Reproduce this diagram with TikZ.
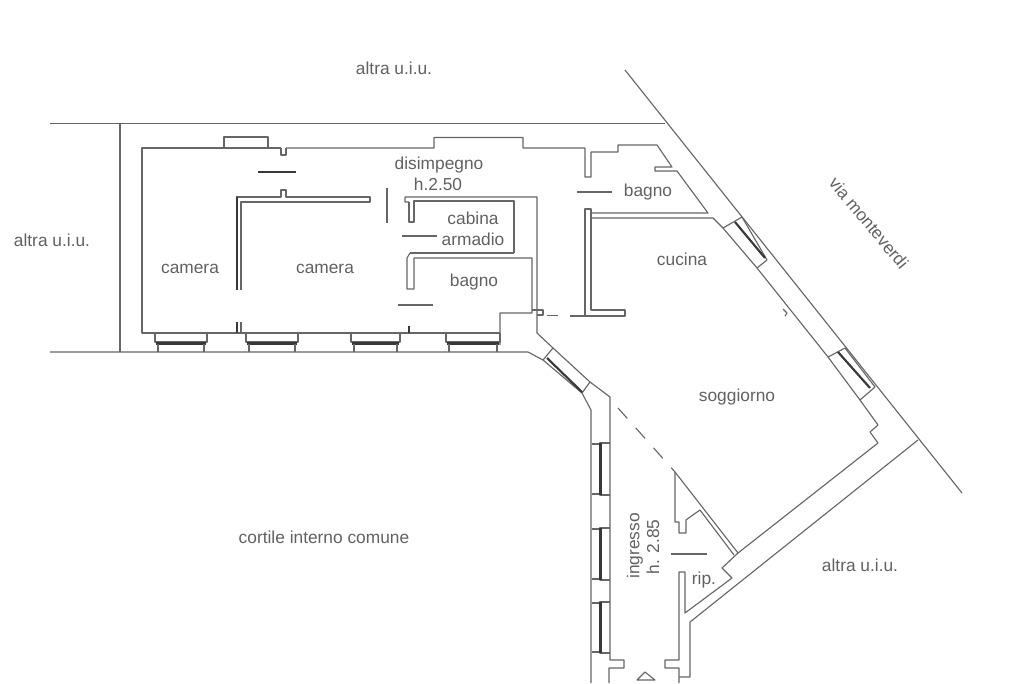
\documentclass[tikz,border=0pt]{standalone}
\usepackage{fontspec}
\setmainfont{Liberation Sans}
\tikzset{
  muro/.style={line width=0.85pt,draw=black!60,line join=round},
  spesso/.style={line width=1.6pt,draw=black!78},
  porta/.style={line width=0.85pt,draw=black!60},
  scritta/.style={text=black!62,inner sep=0pt,font=\fontsize{13}{14}\selectfont},
}
% finestra: 4 corners, then the two ends of the glass
\newcommand{\finestra}[6]{%
    \draw[muro] #1 -- #2 -- #3 -- #4 -- cycle;
    \draw[spesso] #5 -- #6;
}
% finestra on the courtyard side
\newcommand{\finestrasud}[2]{%
    \draw[muro] (#1,333) -- (#1,342) -- (#2,342) -- (#2,333);
    \draw[spesso] (#1+1,343.5) -- (#2-1,343.5);
    \draw[muro] (#1+3,344) -- (#1+3,352);
    \draw[muro] (#2-3,344) -- (#2-3,352);
}
% finestra on the entrance side
\newcommand{\finestraing}[2]{%
    \draw[muro] (610,#1) -- (600,#1) -- (600,#2) -- (610,#2);
    \draw[spesso] (600.5,#1) -- (600.5,#2);
    \draw[muro] (592,#1+1) -- (599,#1+1);
    \draw[muro] (592,#2-1) -- (599,#2-1);
}

\begin{document}
\begin{tikzpicture}[x=0.75pt,y=-0.75pt]
\useasboundingbox (0,0) rectangle (1024,683);
\clip (0,0) rectangle (1024,683);

% confini
\draw[muro] (50,123.5) -- (665,123.5);
\draw[muro] (120,123.5) -- (120,352);
\draw[muro] (50,352) -- (528,352) -- (543,360);
\draw[muro] (625,70) -- (962,493);

% perimetro camere
\draw[muro] (281,148) -- (142,148) -- (142,333) -- (500,333);
\draw[muro] (224,148) -- (224,137) -- (268,137) -- (268,148);
\draw[muro] (286,148) -- (434,148) -- (434,137.5) -- (523,137.5) -- (523,148) -- (585,148)
  -- (585,177) -- (591,177) -- (591,152) -- (618,152) -- (618,145) -- (657,145)
  -- (672,167) -- (655,167) -- (655,171) -- (677,171) -- (708,213) -- (591,213);
\draw[muro] (281,148) -- (281,155) -- (286,155) -- (286,148);
\draw[spesso] (258,172) -- (296,172);

% muro camera
\draw[muro] (241,290) -- (241,202) -- (370,202) -- (370,197) -- (286,197) -- (286,190)
  -- (281,190) -- (281,197) -- (236,197);
\draw[spesso] (237,197) -- (237,290);
\draw[spesso] (237,322) -- (237,333);
\draw[muro] (241,322) -- (241,333);
\draw[spesso] (409,326) -- (409,333);
\draw[porta] (387,188) -- (387,223);

% cabina armadio
\draw[muro] (409,202) -- (409,222) -- (414,222) -- (414,201) -- (514,201) -- (514,253);
\draw[muro] (409,202) -- (405,202) -- (405,197) -- (537,197) -- (537,333) -- (553,348);
\draw[porta] (402,236) -- (437,236);

% bagno
\draw[muro] (410,253) -- (514,253);
\draw[muro] (410,253) -- (407,258) -- (407,289) -- (414,289) -- (414,258) -- (532,258)
  -- (532,313) -- (500,313) -- (500,345);
\draw[muro] (532,310) -- (543,310) -- (543,315) -- (537,315);
\draw[porta] (398,305) -- (433,305);
\draw[porta] (577,192) -- (612,192);

% cucina
\draw[muro] (585,316) -- (585,209) -- (591,209) -- (591,310) -- (625,310) -- (625,316) -- (570,316);
\draw[muro] (591,213) -- (591,218) -- (713,218) -- (723,228);
\draw[muro,dash pattern=on 8.25pt off 9pt] (547,315.5) -- (570,315.5);

% finestre
\finestrasud{155}{207}
\finestrasud{246}{298}
\finestrasud{351}{400}
\finestrasud{446}{500}
\finestra{(543,360)}{(553,348)}{(590,382)}{(582,393)}{(547,358)}{(582,392)}
\finestra{(723,228)}{(742,217)}{(767,260)}{(757,268)}{(735,222)}{(765,258)}
\finestra{(828,357)}{(845,348)}{(875,387)}{(860,400)}{(838,352)}{(870,388)}
\finestraing{443}{495}
\finestraing{528}{580}
\finestraing{602}{653}

% soggiorno
\draw[muro] (757,268) -- (828,357);
\draw[muro] (783,309) -- (787,313) -- (785,316);
\draw[muro] (860,400) -- (878,425) -- (870,432) -- (878,443) -- (738,553) -- (722,568)
  -- (732,578) -- (685,613) -- (685,572) -- (679,572) -- (679,660) -- (665,660)
  -- (665,668) -- (679,668) -- (679,683);
\draw[muro] (918,440) -- (690,622) -- (690,677) -- (679,677);

% ingresso
\draw[muro] (582,393) -- (591,410) -- (591,683);
\draw[muro] (590,382) -- (610,397) -- (610,660) -- (624,660) -- (624,668) -- (609,668) -- (609,683);
\draw[muro,dash pattern=on 10.5pt off 9.5pt] (618,408) -- (675,472);
\draw[muro] (675,472) -- (738,553);
\draw[muro] (675,472) -- (675,522) -- (679,522) -- (679,533) -- (686,533) -- (686,520)
  -- (690,517) -- (700,510) -- (734,555);
\draw[porta] (671,554) -- (707,554);
\draw[muro] (637,680) -- (645,672) -- (655,680) -- cycle;

% scritte
\node[scritta] (altranord) at (394,68) {altra u.i.u.};
\node[scritta] (altraovest) at (52,240) {altra u.i.u.};
\node[scritta] (altraest) at (860,565) {altra u.i.u.};
\node[scritta] (cortile) at (324,537) {cortile interno comune};
\node[scritta] (camerauno) at (190,269) {camera};
\node[scritta] (cameradue) at (325,269) {camera};
\node[scritta] (disimpegno) at (439,165) {disimpegno};
\node[scritta] (altezzauno) at (438,184) {h.2.50};
\node[scritta] (cabina) at (473,218) {cabina};
\node[scritta] (armadio) at (473,239) {armadio};
\node[scritta] (bagnouno) at (474,282) {bagno};
\node[scritta] (bagnodue) at (648,192) {bagno};
\node[scritta] (cucina) at (682,259) {cucina};
\node[scritta] (soggiorno) at (737,397) {soggiorno};
\node[scritta,rotate=-50] (via) at (869,223) {via monteverdi};
\node[scritta,rotate=90] (ingresso) at (635,546) {ingresso};
\node[scritta,rotate=90] (altezzadue) at (653,547) {h. 2.85};
\node[scritta] (rip) at (704,580) {rip.};
\end{tikzpicture}
\end{document}
